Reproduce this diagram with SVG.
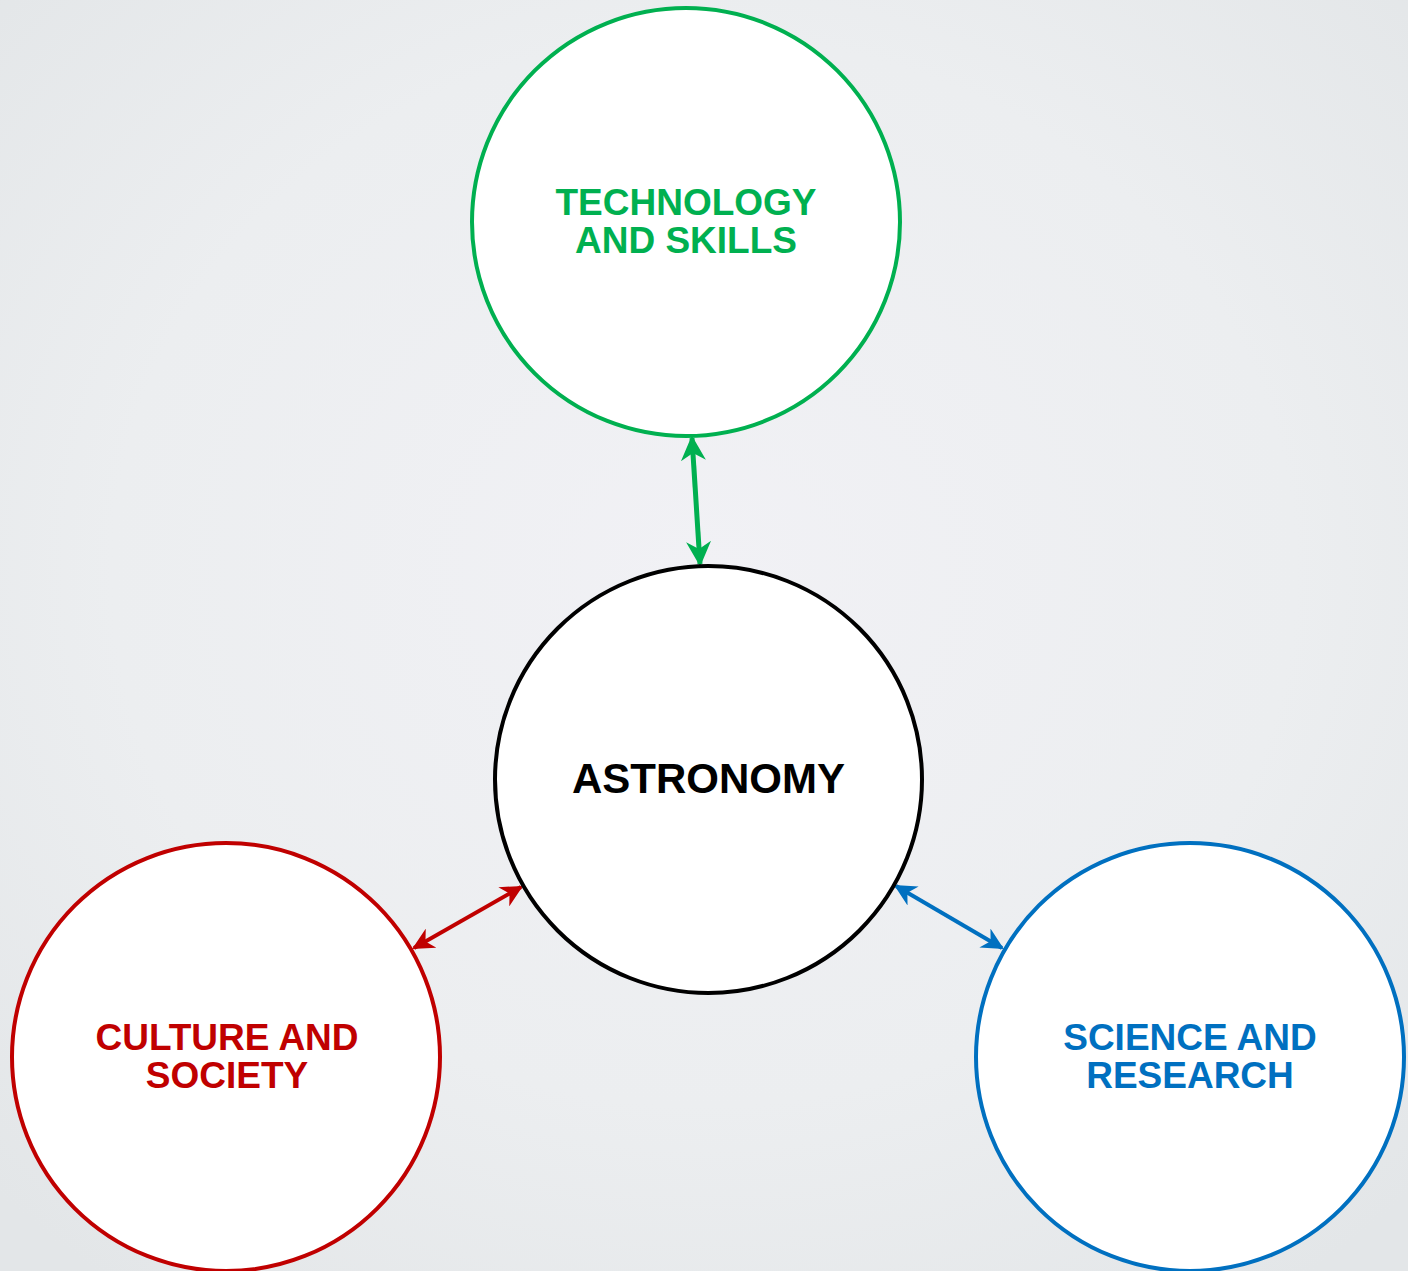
<svg xmlns="http://www.w3.org/2000/svg" width="1408" height="1271" viewBox="0 0 1408 1271">
<defs>
<radialGradient id="bg" cx="0.5" cy="0.45" r="0.7">
<stop offset="0" stop-color="#f1f1f5"/>
<stop offset="0.6" stop-color="#eceef0"/>
<stop offset="1" stop-color="#e3e6e8"/>
</radialGradient>
<marker id="ag" viewBox="0 0 10 10" refX="9" refY="5" markerWidth="5" markerHeight="5" orient="auto-start-reverse" markerUnits="strokeWidth">
<path d="M0,0 L10,5 L0,10 L3,5 Z" fill="#00b050"/>
</marker>
<marker id="ar" viewBox="0 0 10 10" refX="9" refY="5" markerWidth="5.5" markerHeight="5.5" orient="auto-start-reverse" markerUnits="strokeWidth">
<path d="M0,0 L10,5 L0,10 L3,5 Z" fill="#c00000"/>
</marker>
<marker id="ab" viewBox="0 0 10 10" refX="9" refY="5" markerWidth="5.5" markerHeight="5.5" orient="auto-start-reverse" markerUnits="strokeWidth">
<path d="M0,0 L10,5 L0,10 L3,5 Z" fill="#0070c0"/>
</marker>
</defs>
<style>
.node{fill:#ffffff;stroke-width:4}
.lbl{font-family:"Liberation Sans",Arial,sans-serif;font-weight:bold;text-anchor:middle}
</style>
<rect width="1408" height="1271" fill="url(#bg)"/>
<g id="connectors">
<line x1="692" y1="438" x2="700" y2="564" stroke="#00b050" stroke-width="5" marker-start="url(#ag)" marker-end="url(#ag)"/>
<line x1="414" y1="948" x2="521" y2="887" stroke="#c00000" stroke-width="4" marker-start="url(#ar)" marker-end="url(#ar)"/>
<line x1="896" y1="886" x2="1002" y2="948" stroke="#0070c0" stroke-width="4" marker-start="url(#ab)" marker-end="url(#ab)"/>
</g>
<g id="node-technology">
<circle class="node" cx="686" cy="222" r="214" stroke="#00b050"/>
<text class="lbl" fill="#00b050" font-size="37"><tspan x="686" y="215">TECHNOLOGY</tspan><tspan x="686" y="253">AND SKILLS</tspan></text>
</g>
<g id="node-astronomy">
<circle class="node" cx="708.5" cy="779.5" r="213.5" stroke="#000000"/>
<text class="lbl" fill="#000000" font-size="42" x="708.5" y="793">ASTRONOMY</text>
</g>
<g id="node-culture">
<circle class="node" cx="226" cy="1057" r="214" stroke="#c00000"/>
<text class="lbl" fill="#c00000" font-size="37"><tspan x="227" y="1050">CULTURE AND</tspan><tspan x="227" y="1088">SOCIETY</tspan></text>
</g>
<g id="node-science">
<circle class="node" cx="1190" cy="1057" r="214" stroke="#0070c0"/>
<text class="lbl" fill="#0070c0" font-size="37"><tspan x="1190" y="1050">SCIENCE AND</tspan><tspan x="1190" y="1088">RESEARCH</tspan></text>
</g>
</svg>
